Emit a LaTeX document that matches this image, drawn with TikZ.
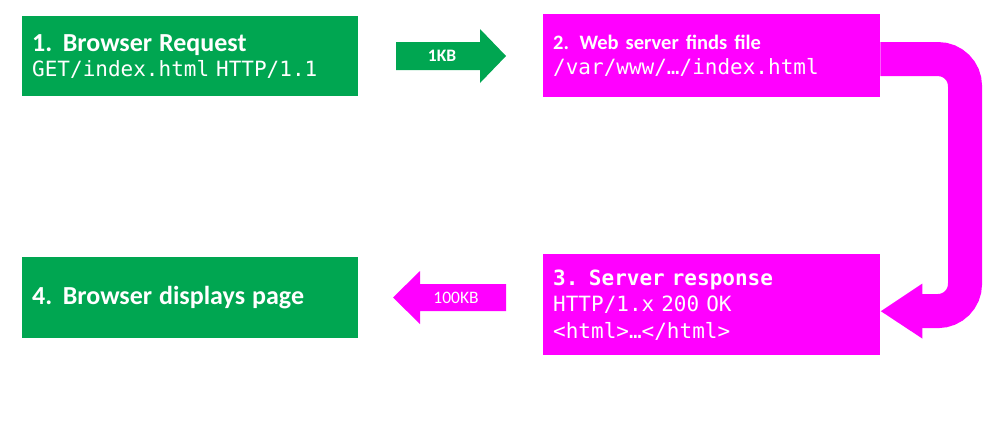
\documentclass[tikz,border=0pt]{standalone}
\usepackage{fontspec}
\setmainfont{Carlito}
\newfontfamily\codefont{DejaVu Sans Mono}
\usetikzlibrary{arrows.meta}
\definecolor{webgreen}{RGB}{0,166,81}
\definecolor{webmagenta}{RGB}{255,0,255}

\begin{document}
\begin{tikzpicture}[x=1pt,y=-1pt,>=Triangle,
    stepbox/.style={anchor=north west,text=white,align=left,inner xsep=10pt,inner ysep=0pt,
        font=\fontsize{21}{25}\selectfont},
    kblabel/.style={text=white,inner sep=0pt,font=\fontsize{17.5}{18}\selectfont}]
                \useasboundingbox (0,0) rectangle (998,432);
                % the four steps
                \node[stepbox,fill=webgreen,minimum width=336pt,minimum height=80pt,text width=316pt] (b1) at (22,16)
                    {{\bfseries\fontsize{26}{25}\selectfont 1. Browser Request}\\{\codefont GET/index.html HTTP/1.1}};
                \node[stepbox,fill=webmagenta,minimum width=337pt,minimum height=83pt,text width=317pt] (b2) at (543,14)
                    {{\bfseries\fontsize{20.5}{25}\selectfont 2. Web server finds file}\\{\codefont /var/www/…/index.html}};
                \node[stepbox,fill=webmagenta,minimum width=337pt,minimum height=101pt,text width=317pt,
                    font=\codefont\fontsize{21}{26.5}\selectfont] (b3) at (543,254)
                    {{\bfseries 3. Server response}\\HTTP/1.x 200 OK\\<html>…</html>};
                \node[stepbox,fill=webgreen,minimum width=336pt,minimum height=81pt,text width=316pt] (b4) at (22,257)
                    {{\bfseries\fontsize{26}{25}\selectfont 4. Browser displays page}};
                % block arrows with sizes
                \fill[webgreen] (396,42) -- (480,42) -- (480,29) -- (506,56) -- (480,83) -- (480,70) -- (396,70) -- cycle;
                \node[kblabel,font=\bfseries\fontsize{17.5}{18}\selectfont] (kb1) at (442,56) {1KB};
                \fill[webmagenta] (506,284) -- (420,284) -- (420,271) -- (393,297.5) -- (420,324) -- (420,311) -- (506,311) -- cycle;
                \node[kblabel] (kb2) at (456,297.5) {100KB};
                % server sends the file back
                \coordinate (out) at ([yshift=-3.5pt]b2.east);
                \coordinate (in) at ([yshift=-6.5pt]b3.east);
                \draw[webmagenta,line width=34pt,rounded corners=27pt,-{Triangle[length=42pt,width=52pt]}]
                    (out) -- (965,59) -- (965,311) -- (in);
\end{tikzpicture}
\end{document}
